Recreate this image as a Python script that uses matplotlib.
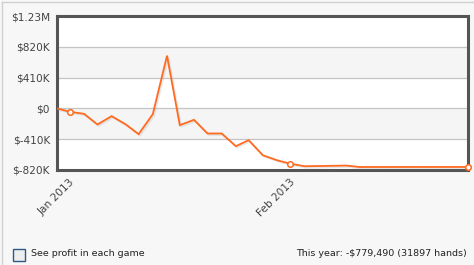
import matplotlib
matplotlib.use("Agg")
import matplotlib.pyplot as plt
import matplotlib.patheffects as pe
from matplotlib.patches import Rectangle
from matplotlib.lines import Line2D

# Data: days relative to 1 Jan 2013, cumulative profit in $K
days = [-1.8, 0.0, 2.0, 3.9, 5.9, 7.9, 9.7, 11.7, 13.7, 15.5, 17.5, 19.4,
        21.4, 23.4, 25.2, 27.2, 29.2, 31.0, 33.1, 39.0, 40.8, 56.1]
profit_k = [0, -45, -72, -214, -103, -214, -343, -76, 702, -223, -152, -334,
            -334, -503, -423, -624, -690, -735, -770, -761, -780, -779.49]
marker_idx = [1, 17, 21]

ytick_vals = [-820, -410, 0, 410, 820, 1230]
ytick_labels = ["$-820K", "$-410K", "$0", "$410K", "$820K", "$1.23M"]
xtick_vals = [0, 31]
xtick_labels = ["Jan 2013", "Feb 2013"]

W, H = 474, 265
fig = plt.figure(figsize=(W / 100, H / 100), dpi=100)
fig.patch.set_facecolor("#f7f7f7")

L, R, T, B = 57, 468, 16, 170
ax = fig.add_axes([L / W, 1 - B / H, (R - L) / W, (B - T) / H])
ax.set_facecolor("white")

# alternating bands
for i in range(len(ytick_vals) - 1):
    if i % 2 == 1:
        ax.axhspan(ytick_vals[i], ytick_vals[i + 1], color="#f5f5f5", zorder=0, lw=0)
for v in ytick_vals[1:-1]:
    ax.axhline(v, color="#c4c4c4", lw=0.9, zorder=1)

line_color = "#ff6a1f"
ax.plot(days, profit_k, color=line_color, lw=1.3, zorder=3, solid_joinstyle="miter",
        path_effects=[pe.SimpleLineShadow(offset=(1.0, -1.0), shadow_color="#999999", alpha=0.22),
                      pe.Normal()])
ax.plot([days[i] for i in marker_idx], [profit_k[i] for i in marker_idx], "o",
        ms=4, mfc="white", mec=line_color, mew=1.1, zorder=4, clip_on=False)

ax.set_xlim(days[0], days[-1])
ax.set_ylim(ytick_vals[0], ytick_vals[-1])
ax.set_yticks(ytick_vals)
ax.set_yticklabels(ytick_labels)
ax.set_xticks(xtick_vals)
ax.set_xticklabels(xtick_labels, rotation=45, ha="right", va="top",
                   rotation_mode="anchor")
ax.tick_params(axis="both", length=0, labelsize=7.6, labelcolor="#444444")
ax.tick_params(axis="y", pad=5)
ax.tick_params(axis="x", pad=5)
for lbl in ax.get_xticklabels():
    lbl.set_x(lbl.get_position()[0])
for s in ax.spines.values():
    s.set_color("#555555")
    s.set_linewidth(2.2)

# figure borders (top and left)
fig.add_artist(Line2D([1.5 / W, 1.5 / W], [0, 1 - 1.5 / H], color="#d0d0d0", lw=1))
fig.add_artist(Line2D([1.5 / W, 1], [1 - 1.5 / H, 1 - 1.5 / H], color="#d0d0d0", lw=1))

# checkbox and texts
fig.add_artist(Rectangle((12.5 / W, 1 - 261 / H), 12 / W, 12 / H,
                         transform=fig.transFigure, facecolor="#eeeeee",
                         edgecolor="#2b5a86", lw=1.0))
fig.text(31 / W, 1 - 254 / H, "See profit in each game", fontsize=6.8,
         color="#222222", va="center", ha="left")
fig.text(467 / W, 1 - 254 / H, "This year: -$779,490 (31897 hands)", fontsize=6.8,
         color="#222222", va="center", ha="right")

fig.savefig("out.png", dpi=100, facecolor=fig.get_facecolor())
